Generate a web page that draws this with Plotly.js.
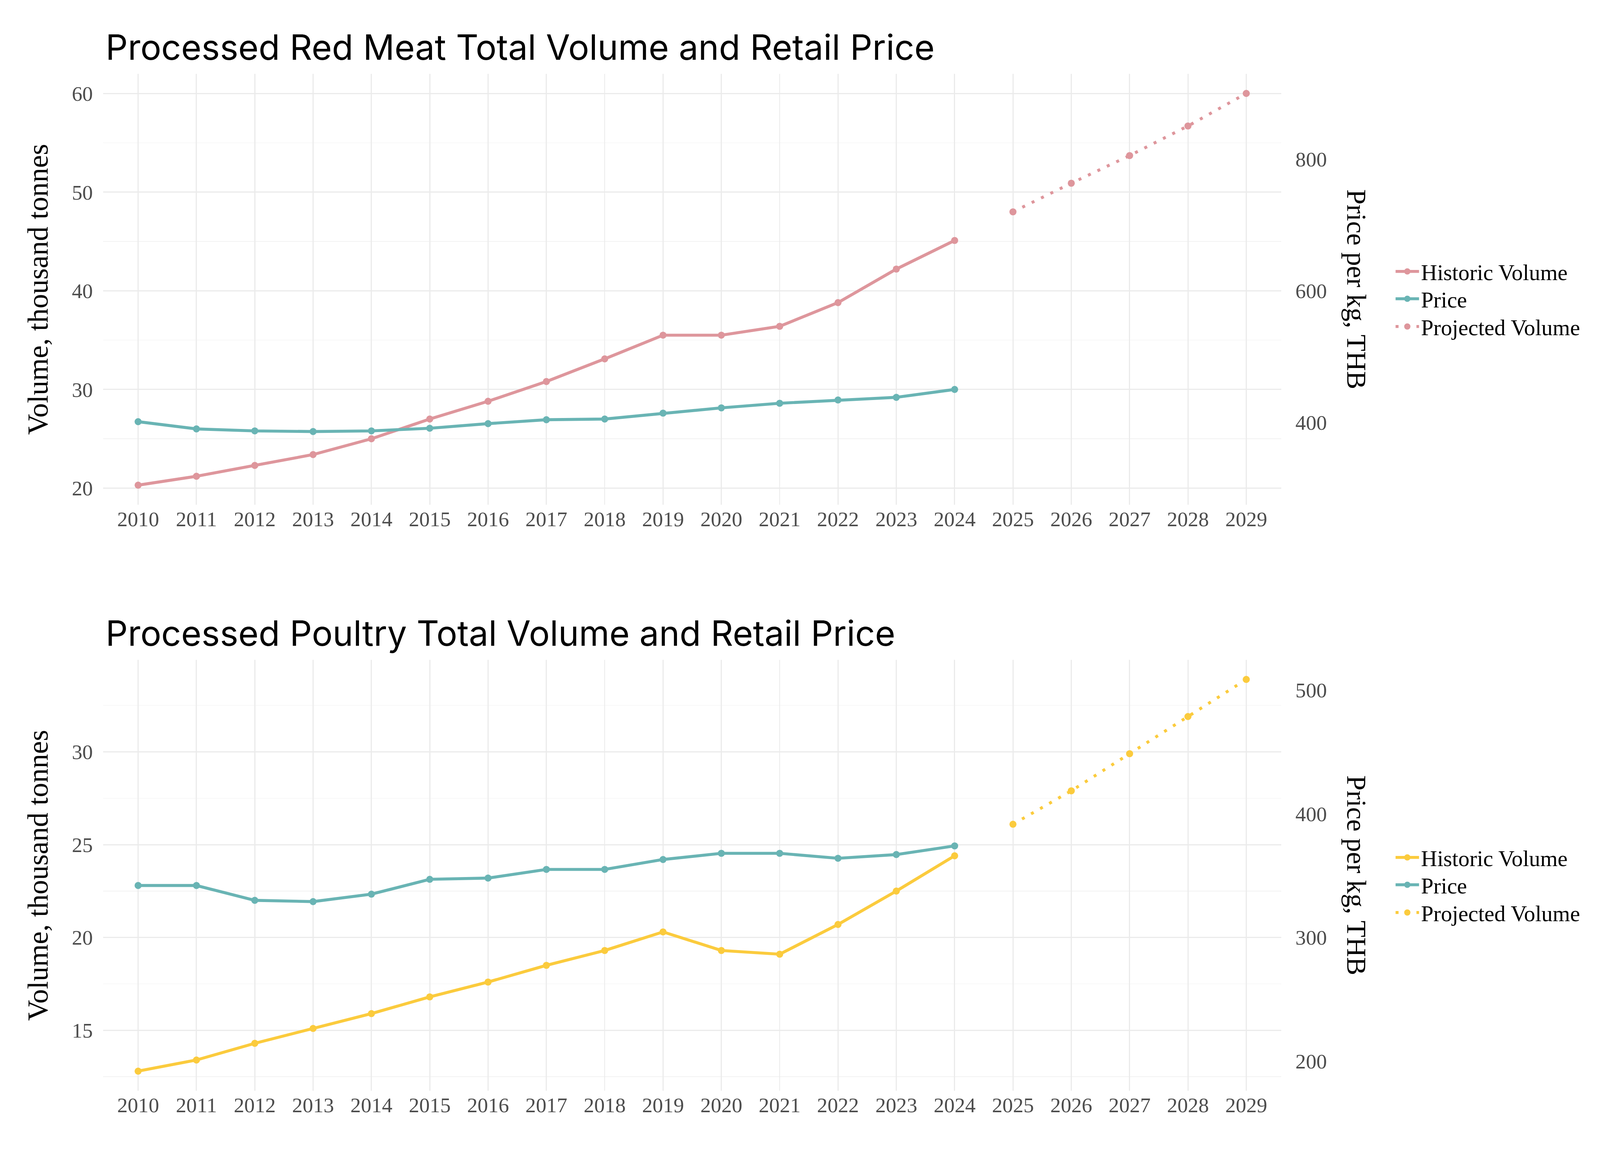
<!DOCTYPE html>
<html>
<head>
<meta charset="utf-8">
<script src="https://cdn.plot.ly/plotly-3.0.1.min.js"></script>
<style>
  html, body { margin: 0; padding: 0; background: #ffffff; overflow: hidden; }
</style>
</head>
<body>
<div id="top"></div>
<div id="bottom"></div>
<script>
// ---------- data ----------
const years = ['2010','2011','2012','2013','2014','2015','2016','2017','2018','2019','2020','2021','2022','2023','2024','2025','2026','2027','2028','2029'];
const historicYears = years.slice(0, 15);
const projectedYears = years.slice(15);

// Processed red meat
const redMeatVolume = [20.3, 21.2, 22.3, 23.4, 25.0, 27.0, 28.8, 30.8, 33.1, 35.5, 35.5, 36.4, 38.8, 42.2, 45.1];
const redMeatPrice = [401, 390, 387, 386, 387, 391, 398, 404, 405, 414, 422, 429, 434, 438, 450];
const redMeatProjected = [48.0, 50.9, 53.7, 56.7, 60.0];

// Processed poultry
const poultryVolume = [12.8, 13.4, 14.3, 15.1, 15.9, 16.8, 17.6, 18.5, 19.3, 20.3, 19.3, 19.1, 20.7, 22.5, 24.4];
const poultryPrice = [342, 342, 330, 329, 335, 347, 348, 355, 355, 363, 368, 368, 364, 367, 374];
const poultryProjected = [26.1, 27.9, 29.9, 31.9, 33.9];

const priceScale = 15; // secondary axis = primary * 15

const redMeatTitle = 'Processed Red Meat Total Volume and Retail Price';
const poultryTitle = 'Processed Poultry Total Volume and Retail Price';
const leftTitle = 'Volume, thousand tonnes';
const rightTitle = 'Price per kg, THB';
const seriesNames = ['Historic Volume', 'Price', 'Projected Volume'];

// ---------- sizing (design units: 4500 x 3000, two panels of 1500) ----------
const vw = window.innerWidth || 4500, vh = window.innerHeight || 3000;
const sx = vw / 4500, sy = vh / 3000;

const W = 4500, H = 1500;
const M = {l: 290, r: 897, t: 189, b: 208};
const plotW = W - M.l - M.r, plotH = H - M.t - M.b;
const serif = 'Liberation Serif, Times New Roman, serif';
const tickColor = '#4D4D4D';
const gridColor = '#EBEBEB';
const teal = '#69B4B4';

function px2paperX(px) { return (px - M.l) / plotW; }
function py2paperY(py) { return (M.t + plotH - py) / plotH; }

function build(divId, title, vol, price, proj, volColor, yMajor, yMinor, rightTicks) {
  const allVol = vol.concat(proj, price.map(p => p / priceScale));
  const lo = Math.min(...allVol), hi = Math.max(...allVol);
  const pad = (hi - lo) * 0.05;
  const yRange = [lo - pad, hi + pad];
  const s = Math.sqrt(sx * sy);
  const lw = 8 * s, ms = 19 * s;

  const traces = [
    {
      x: historicYears, y: vol, name: seriesNames[0], type: 'scatter', mode: 'lines+markers',
      line: {color: volColor, width: lw}, marker: {color: volColor, size: ms}, yaxis: 'y', legend: 'legend'
    },
    {
      x: historicYears, y: price, name: seriesNames[1], type: 'scatter', mode: 'lines+markers',
      line: {color: teal, width: lw}, marker: {color: teal, size: ms}, yaxis: 'y2', legend: 'legend2'
    },
    {
      x: projectedYears, y: proj, name: seriesNames[2], type: 'scatter', mode: 'lines+markers',
      line: {color: volColor, width: lw, dash: (8 * s) + 'px,' + (20 * s) + 'px'},
      marker: {color: volColor, size: ms}, yaxis: 'y', legend: 'legend3'
    }
  ];

  const tickFont = {family: serif, size: 59 * sx, color: tickColor};
  const legendBase = {
    x: px2paperX(3919), xanchor: 'left', yanchor: 'middle',
    bgcolor: 'rgba(0,0,0,0)', borderwidth: 0, itemwidth: Math.max(30, 66 * sx),
    font: {family: serif, size: 63 * sx, color: '#000000'}
  };
  const layout = {
    width: W * sx, height: H * sy,
    margin: {l: M.l * sx, r: M.r * sx, t: M.t * sy, b: M.b * sy},
    paper_bgcolor: '#ffffff', plot_bgcolor: '#ffffff',
    showlegend: true,
    title: {
      text: title, xref: 'container', x: 297 / W, xanchor: 'left',
      yref: 'container', y: 1 - 153 / H, yanchor: 'bottom',
      font: {family: 'Inter, Roboto, sans-serif', size: 98 * sx, color: '#000000'}
    },
    xaxis: {
      type: 'category', categoryorder: 'array', categoryarray: years,
      range: [-0.6, years.length - 1 + 0.6],
      showgrid: true, gridcolor: gridColor, gridwidth: 3 * s,
      zeroline: false, showline: false,
      ticks: '', tickfont: tickFont, fixedrange: true
    },
    yaxis: {
      range: yRange, dtick: yMajor, tick0: 0,
      showgrid: true, gridcolor: gridColor, gridwidth: 3 * s,
      minor: {dtick: yMinor, tick0: 0, showgrid: true, gridcolor: '#F2F2F2', gridwidth: 1.6 * s, ticks: ''},
      zeroline: false, showline: false,
      ticks: 'outside', ticklen: 16 * sx, tickcolor: 'rgba(0,0,0,0)',
      tickfont: tickFont, fixedrange: true
    },
    yaxis2: {
      overlaying: 'y', side: 'right', anchor: 'x',
      range: [yRange[0] * priceScale, yRange[1] * priceScale],
      tickmode: 'array', tickvals: rightTicks,
      showgrid: false, zeroline: false, showline: false,
      ticks: 'outside', ticklen: 27 * sx, tickcolor: 'rgba(0,0,0,0)',
      tickfont: tickFont, fixedrange: true
    },
    legend: Object.assign({}, legendBase, {y: py2paperY(695)}),
    legend2: Object.assign({}, legendBase, {y: py2paperY(765)}),
    legend3: Object.assign({}, legendBase, {y: py2paperY(836)}),
    annotations: [
      {
        text: leftTitle, xref: 'paper', yref: 'paper', x: px2paperX(106), y: 0.5,
        xanchor: 'center', yanchor: 'middle', textangle: -90, showarrow: false,
        font: {family: serif, size: 74 * sy, color: '#000000'}
      },
      {
        text: rightTitle, xref: 'paper', yref: 'paper', x: px2paperX(3815), y: 0.5,
        xanchor: 'center', yanchor: 'middle', textangle: 90, showarrow: false,
        font: {family: serif, size: 70 * sy, color: '#000000'}
      }
    ]
  };

  Plotly.newPlot(divId, traces, layout, {staticPlot: true, displayModeBar: false});
}

build('top', redMeatTitle, redMeatVolume, redMeatPrice, redMeatProjected, '#DE969C', 10, 5, [400, 600, 800]);
build('bottom', poultryTitle, poultryVolume, poultryPrice, poultryProjected, '#FBCB3D', 5, 2.5, [200, 300, 400, 500]);
</script>
</body>
</html>
